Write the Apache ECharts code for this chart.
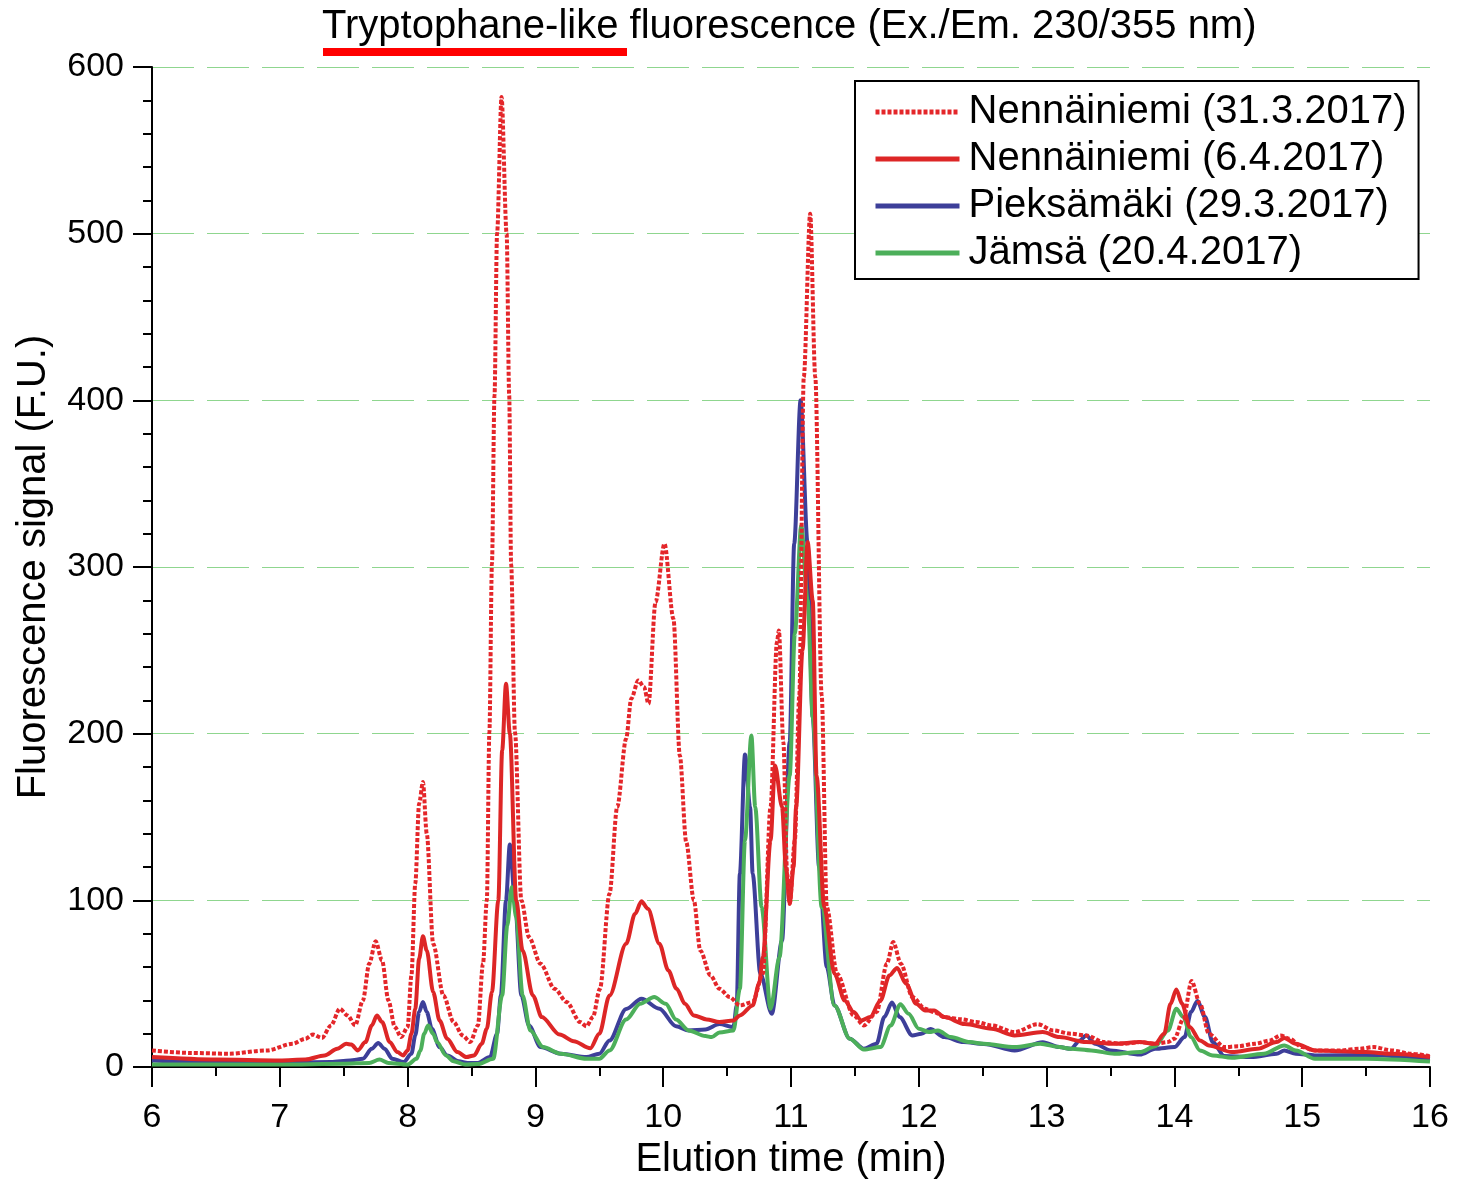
<!DOCTYPE html>
<html>
<head>
<meta charset="utf-8">
<script src="https://cdn.jsdelivr.net/npm/echarts@6/dist/echarts.min.js"></script>
<style>
  html, body { margin: 0; padding: 0; background: #fff; }
  #chart { width: 1459px; height: 1185px; }
</style>
</head>
<body>
<div id="chart"></div>
<script>
// Elution time (min) vs fluorescence signal (F.U.)
const nenn31 = [
  [6.0, 10], [6.3, 8.5], [6.6, 8], [6.9, 10], [7.1, 14], [7.2, 17], [7.26, 19.5], [7.33, 17.5],
  [7.4, 25], [7.47, 35], [7.53, 31], [7.59, 25], [7.65, 40], [7.7, 62], [7.75, 75.5], [7.8, 64],
  [7.85, 40], [7.9, 24], [7.95, 18], [8.0, 24], [8.03, 55], [8.06, 110], [8.09, 158], [8.12, 171],
  [8.15, 140], [8.2, 74], [8.28, 43], [8.36, 27], [8.43, 19], [8.49, 15], [8.55, 25], [8.59, 62],
  [8.62, 100], [8.64, 201], [8.66, 302], [8.68, 403], [8.70, 500], [8.735, 582], [8.775, 500],
  [8.795, 403], [8.81, 302], [8.84, 201], [8.89, 100], [8.95, 78], [9.04, 62], [9.15, 47],
  [9.245, 39], [9.35, 27], [9.40, 24.5], [9.45, 30], [9.505, 47], [9.58, 104], [9.64, 156],
  [9.71, 197], [9.75, 221], [9.805, 232], [9.85, 228], [9.885, 218], [9.94, 279], [10.01, 314],
  [10.08, 269], [10.13, 187], [10.18, 135], [10.24, 100], [10.29, 70], [10.37, 55], [10.44, 47],
  [10.52, 42], [10.6, 37], [10.7, 39], [10.78, 56], [10.84, 156], [10.89, 255], [10.905, 262],
  [10.94, 195], [10.97, 116], [10.99, 98], [11.03, 136], [11.065, 223], [11.1, 414], [11.15, 512],
  [11.19, 414], [11.24, 223], [11.28, 96], [11.36, 56], [11.49, 31], [11.57, 25], [11.67, 33],
  [11.75, 62], [11.8, 75], [11.86, 62], [11.95, 42], [12.05, 35], [12.12, 33], [12.2, 30],
  [12.33, 28.7], [12.45, 27], [12.57, 25], [12.75, 21], [12.93, 25.8], [13.05, 22], [13.19, 20],
  [13.31, 19], [13.45, 15], [13.6, 14], [13.73, 15], [13.85, 14], [13.95, 15], [14.0, 17],
  [14.07, 29], [14.135, 51.6], [14.2, 38], [14.27, 20], [14.39, 12], [14.5, 12.5], [14.63, 14],
  [14.75, 16], [14.83, 19], [14.9, 17], [15.0, 12], [15.1, 10], [15.3, 10], [15.45, 11],
  [15.56, 12], [15.7, 10], [15.85, 8], [16.0, 6.5]
]

const nenn06 = [
  [6.0, 6], [6.5, 4.5], [7.0, 4], [7.2, 4.5], [7.35, 7], [7.45, 11], [7.52, 14], [7.56, 13.5],
  [7.61, 10], [7.67, 15], [7.72, 25], [7.76, 31], [7.8, 27], [7.86, 15], [7.92, 9], [7.965, 7],
  [8.0, 10], [8.03, 20], [8.06, 35], [8.09, 65], [8.12, 78.5], [8.15, 70], [8.2, 45], [8.25, 28],
  [8.31, 17], [8.39, 9], [8.46, 6], [8.52, 7], [8.58, 14], [8.62, 23], [8.66, 45], [8.71, 100],
  [8.74, 190], [8.77, 230], [8.8, 200], [8.85, 100], [8.9, 70], [8.98, 43], [9.05, 30],
  [9.19, 19.5], [9.3, 15.5], [9.43, 11.3], [9.5, 20], [9.58, 43], [9.71, 74], [9.78, 92],
  [9.83, 99.5], [9.88, 95], [9.97, 74], [10.04, 58], [10.105, 47], [10.17, 38], [10.24, 31],
  [10.34, 28.6], [10.44, 27], [10.55, 28], [10.6, 31], [10.7, 37], [10.75, 50], [10.78, 66],
  [10.84, 136], [10.875, 181], [10.93, 156], [10.96, 120], [10.99, 98], [11.02, 120], [11.04, 156],
  [11.09, 250], [11.13, 315], [11.17, 280], [11.2, 175], [11.26, 96], [11.34, 56], [11.42, 40],
  [11.49, 33], [11.55, 28], [11.62, 30], [11.7, 40], [11.77, 55], [11.83, 59.5], [11.9, 50],
  [11.98, 38], [12.05, 34], [12.12, 34], [12.2, 30], [12.36, 25.8], [12.57, 23], [12.75, 19],
  [12.97, 21], [13.1, 18], [13.31, 15], [13.53, 14], [13.73, 15], [13.85, 14], [13.92, 20],
  [13.97, 38], [14.015, 46.6], [14.06, 38], [14.12, 24], [14.2, 16], [14.27, 13], [14.45, 9],
  [14.65, 11], [14.8, 15], [14.86, 17.5], [14.95, 14], [15.1, 10], [15.3, 9.5], [15.5, 9],
  [15.7, 8], [16.0, 6]
]

const pieksamaki = [
  [6.0, 4], [6.5, 3], [7.0, 2.5], [7.4, 3], [7.55, 4], [7.65, 5], [7.72, 11], [7.77, 14.5],
  [7.82, 11], [7.88, 5], [7.97, 3], [8.03, 8], [8.06, 19], [8.09, 33], [8.12, 39], [8.15, 33],
  [8.19, 23], [8.25, 12], [8.31, 7], [8.4, 3.5], [8.47, 2.5], [8.55, 2.5], [8.645, 6], [8.7, 20],
  [8.73, 43], [8.77, 100], [8.8, 133.6], [8.84, 100], [8.89, 43], [8.95, 25], [9.04, 12],
  [9.2, 8], [9.4, 6], [9.5, 8], [9.58, 16], [9.71, 34.8], [9.83, 41], [9.97, 35], [10.1, 24.5],
  [10.2, 22], [10.33, 22.6], [10.44, 25.8], [10.55, 24], [10.575, 37], [10.6, 116], [10.64, 187.5],
  [10.68, 156], [10.7, 116], [10.76, 56], [10.85, 32], [10.93, 76], [10.99, 195], [11.025, 314],
  [11.075, 400], [11.13, 314], [11.17, 210], [11.22, 120], [11.28, 60], [11.34, 37], [11.46, 17],
  [11.57, 11], [11.67, 14], [11.73, 30], [11.79, 38.7], [11.85, 30], [11.95, 19], [12.02, 20],
  [12.09, 22.8], [12.2, 18], [12.35, 15], [12.51, 13.9], [12.75, 10], [12.97, 14.9], [13.1, 12],
  [13.19, 11], [13.26, 16], [13.31, 19], [13.38, 14], [13.5, 10], [13.73, 7.5], [13.85, 11],
  [14.0, 12], [14.08, 18], [14.13, 33], [14.18, 39.7], [14.24, 30], [14.3, 15], [14.39, 6.6],
  [14.6, 6], [14.8, 8], [14.86, 10], [14.95, 8], [15.1, 7], [15.5, 7.2], [16.0, 5]
]

const jamsa = [
  [6.0, 1.5], [6.5, 1.5], [7.0, 1.5], [7.5, 2], [7.7, 2.5], [7.78, 4.5], [7.85, 2.5], [8.0, 1.5],
  [8.07, 5], [8.1, 10], [8.13, 20], [8.16, 25], [8.2, 20], [8.23, 15], [8.3, 7], [8.36, 3.5],
  [8.45, 1.5], [8.55, 1.8], [8.67, 5], [8.74, 43], [8.78, 85], [8.815, 108], [8.85, 90],
  [8.9, 43], [8.96, 22], [9.06, 12], [9.2, 8], [9.4, 5], [9.5, 5], [9.58, 10], [9.71, 28.5],
  [9.82, 38], [9.93, 42], [10.02, 38], [10.1, 28.5], [10.2, 22], [10.33, 18.6], [10.38, 18],
  [10.44, 20.8], [10.55, 22], [10.6, 47], [10.64, 136], [10.69, 199], [10.72, 156], [10.77, 96],
  [10.84, 35], [10.91, 66], [10.99, 175], [11.03, 260], [11.08, 325], [11.13, 280], [11.17, 210],
  [11.24, 96], [11.34, 37], [11.46, 17], [11.57, 10.5], [11.7, 12], [11.78, 25], [11.856, 37.7],
  [11.92, 32], [12.0, 23], [12.08, 21], [12.15, 22], [12.25, 18], [12.4, 15], [12.51, 14],
  [12.75, 12], [12.95, 14], [13.1, 12], [13.19, 11], [13.35, 10], [13.53, 8], [13.73, 9],
  [13.85, 12.5], [13.95, 22], [14.015, 35], [14.07, 30], [14.13, 18], [14.2, 10], [14.3, 7],
  [14.45, 5.6], [14.7, 8], [14.86, 13], [14.95, 10], [15.1, 5], [15.5, 5], [16.0, 3.3]
]

const seriesNames = [
  'Nennäiniemi (31.3.2017)',
  'Nennäiniemi (6.4.2017)',
  'Pieksämäki (29.3.2017)',
  'Jämsä (20.4.2017)'
]

const font = '"Liberation Sans", Arial, sans-serif'
const chart = echarts.init(document.getElementById('chart'), null, { renderer: 'canvas' })

const lineSeries = (name, data, color, type) => ({
  name,
  type: 'line',
  data,
  symbol: 'none',
  showSymbol: false,
  smooth: 0.3,
  smoothMonotone: 'x',
  animation: false,
  lineStyle: { color, width: 4, type: type || 'solid' },
  itemStyle: { color }
})

chart.setOption({
  animation: false,
  backgroundColor: '#fff',
  textStyle: { fontFamily: font, color: '#000' },
  title: {
    text: 'Tryptophane-like fluorescence (Ex./Em. 230/355 nm)',
    left: 322,
    top: 7,
    padding: 0,
    textStyle: { fontSize: 40, fontWeight: 'normal', color: '#000', fontFamily: font }
  },
  graphic: [
    {
      // red underline below "Tryptophane-like"
      type: 'rect',
      shape: { x: 323, y: 48, width: 304, height: 8 },
      style: { fill: '#ff0000' },
      z: 10
    }
  ],
  grid: { left: 152, right: 29, top: 67, bottom: 110, containLabel: false },
  legend: {
    data: seriesNames,
    orient: 'vertical',
    left: 855,
    top: 81,
    padding: [11, 12, 6, 18],
    itemGap: 7,
    itemWidth: 84,
    itemHeight: 8,
    borderColor: '#000',
    borderWidth: 2,
    backgroundColor: '#fff',
    itemStyle: { opacity: 0 },
    lineStyle: { width: 5 },
    textStyle: { fontSize: 40, lineHeight: 40, color: '#000', fontFamily: font, padding: [0, 0, 0, 4] }
  },
  xAxis: {
    type: 'value',
    min: 6,
    max: 16,
    interval: 1,
    name: 'Elution time (min)',
    nameLocation: 'middle',
    nameGap: 69,
    nameTextStyle: { fontSize: 40, color: '#000', fontFamily: font },
    axisLine: { show: true, onZero: false, lineStyle: { color: '#000', width: 2 } },
    axisTick: { show: true, length: 20, lineStyle: { color: '#000', width: 2 } },
    minorTick: { show: true, splitNumber: 2, length: 9, lineStyle: { color: '#000', width: 2 } },
    axisLabel: { fontSize: 34, margin: 34, color: '#000', fontFamily: font },
    splitLine: { show: false }
  },
  yAxis: {
    type: 'value',
    min: 0,
    max: 600,
    interval: 100,
    name: 'Fluorescence signal (F.U.)',
    nameLocation: 'middle',
    nameGap: 98,
    nameTextStyle: { fontSize: 40, color: '#000', fontFamily: font },
    axisLine: { show: true, lineStyle: { color: '#000', width: 2 } },
    axisTick: { show: true, length: 19, lineStyle: { color: '#000', width: 2 } },
    minorTick: { show: true, splitNumber: 5, length: 9, lineStyle: { color: '#000', width: 2 } },
    axisLabel: { fontSize: 34, margin: 28, color: '#000', fontFamily: font },
    splitLine: { show: true, lineStyle: { color: '#8fd68f', width: 1, type: [42, 13] } }
  },
  series: [
    lineSeries(seriesNames[2], pieksamaki, '#3d3f99'),
    lineSeries(seriesNames[3], jamsa, '#4caf5a'),
    lineSeries(seriesNames[1], nenn06, '#dd2626'),
    lineSeries(seriesNames[0], nenn31, '#e4262a', [4, 2])
  ]
})

window.addEventListener('resize', () => {
  chart.resize()
})
</script>
</body>
</html>
